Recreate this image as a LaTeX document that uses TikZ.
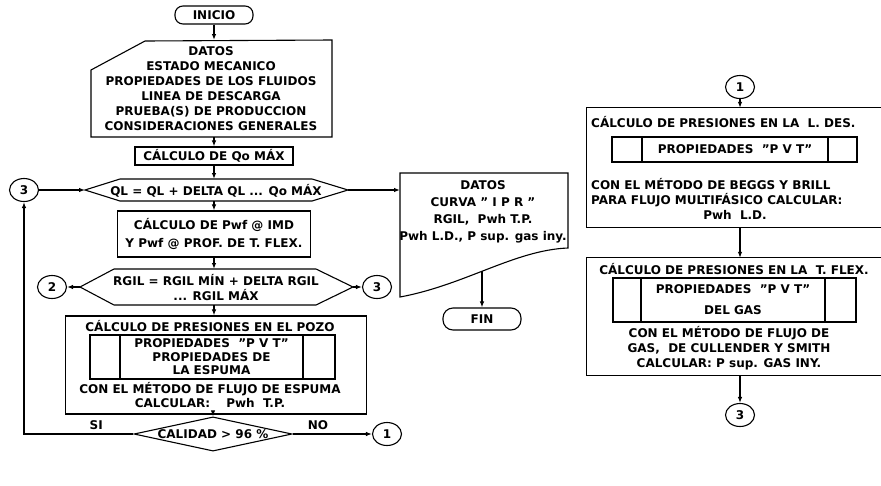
\documentclass[tikz,border=0pt]{standalone}
\usepackage{fontspec}
\setmainfont{DejaVu Sans}
\usetikzlibrary{arrows.meta,shapes.geometric}
\begin{document}
\begin{tikzpicture}[x=1pt, y=-1pt,
		every node/.style={font=\fontsize{12}{15}\selectfont\bfseries, inner sep=0pt, align=center},
		linea/.style={line width=1.1pt},
		flecha/.style={linea, -{Latex[length=6pt,width=4.5pt]}},
		caja/.style={draw, linea, rectangle},
		abierta/.style={rectangle},
		terminal/.style={draw, linea, rounded corners=8pt, minimum width=78pt, minimum height=18pt},
		conector/.style={draw, linea, ellipse, minimum width=29pt, minimum height=23pt},
		decision/.style={draw, linea, diamond, aspect=4.4, minimum width=158pt},
		rotulo/.style={font=\fontsize{12}{15}\selectfont\bfseries}]
	\useasboundingbox (0,0) rectangle (881,485);
	% columna principal
	\node[terminal] (inicio) at (214,15) {INICIO};
	\coordinate (datosN) at (214,40);
	\coordinate (datosS) at (214,137);
	\draw[linea] (91,70) -- (145,41) -- (332,40) -- (332,137) -- (91,137) -- cycle;
	\node (datos) at (211,89) {DATOS\\ESTADO MECANICO\\PROPIEDADES DE LOS FLUIDOS\\LINEA DE DESCARGA\\PRUEBA(S) DE PRODUCCION\\CONSIDERACIONES GENERALES};
	\node[caja, minimum width=158pt, minimum height=18pt] (qo) at (214,156) {CÁLCULO DE Qo MÁX};
	% ciclo QL
	\coordinate (qlO) at (85,190);
	\coordinate (qlE) at (348,190);
	\coordinate (qlN) at (214,179);
	\coordinate (qlS) at (214,201);
	\draw[linea] (qlO) -- (120,179) -- (312,179) -- (qlE) -- (312,201) -- (120,201) -- cycle;
	\node (ql) at (216,191) {QL = QL + DELTA QL ... Qo MÁX};
	\node[caja, minimum width=193pt, minimum height=46pt] (pwf) at (214,234) {CÁLCULO DE Pwf @ IMD\\[3pt]Y Pwf @ PROF. DE T. FLEX.};
	% ciclo RGIL
	\coordinate (rgO) at (80,287);
	\coordinate (rgE) at (353,287);
	\coordinate (rgN) at (214,269);
	\coordinate (rgS) at (214,305);
	\draw[linea] (rgO) -- (114,269) -- (316,269) -- (rgE) -- (316,305) -- (114,305) -- cycle;
	\node (rgil) at (216,288) {RGIL = RGIL MÍN + DELTA RGIL\\... RGIL MÁX};
	\node[conector] (c3a) at (24,190) {3};
	\node[conector] (c2) at (52,287) {2};
	\node[conector] (c3b) at (377,287) {3};
	% presiones en el pozo
	\node[caja, minimum width=301pt, minimum height=98pt] (pozo) at (216,365) {};
	\node (pozoT) at (210,326) {CÁLCULO DE PRESIONES EN EL POZO};
	\node[caja, minimum width=30pt, minimum height=44pt] (pzA) at (105,357) {};
	\node[caja, minimum width=183pt, minimum height=44pt, font=\fontsize{12}{13.5}\selectfont\bfseries] (pzB) at (211.5,357) {PROPIEDADES \ "P V T"\\PROPIEDADES DE\\LA ESPUMA};
	\node[caja, minimum width=32pt, minimum height=44pt] (pzC) at (319,357) {};
	\node[font=\fontsize{12}{14}\selectfont\bfseries] (pozoM) at (210,395) {CON EL MÉTODO DE FLUJO DE ESPUMA\\CALCULAR: \quad Pwh \ T.P.};
	\node[decision] (cal) at (213,434) {CALIDAD > 96 \%};
	\node[conector] (c1a) at (387,434) {1};
	% salida de datos
	\coordinate (docO) at (400,190);
	\coordinate (docS) at (482,271);
	\draw[linea] (400,173) -- (568,173) -- (568,248) .. controls (515,250) and (465,285) .. (400,297) -- cycle;
	\node[font=\fontsize{12}{17}\selectfont\bfseries] (doc) at (483,212) {DATOS\\CURVA " I P R "\\RGIL, \ Pwh T.P.\\Pwh L.D., P sup. gas iny.};
	\node[terminal, minimum height=22pt, rounded corners=10pt] (fin) at (482,319) {FIN};
	% columna derecha (cortada por el borde)
	\node[conector] (c1b) at (740,87) {1};
	\node[abierta, minimum width=330pt, minimum height=119pt] (ldes) at (752,167.5) {};
	\draw[linea] (ldes.north east) -- (ldes.north west) -- (ldes.south west) -- (ldes.south east);
	\node[anchor=west] (ldesT) at (591,122) {CÁLCULO DE PRESIONES EN LA \ L. DES.};
	\node[caja, minimum width=30pt, minimum height=25pt] (ldA) at (627,149.5) {};
	\node[caja, minimum width=186pt, minimum height=25pt] (ldB) at (735,149.5) {PROPIEDADES \ "P V T"};
	\node[caja, minimum width=29pt, minimum height=25pt] (ldC) at (842.5,149.5) {};
	\node[anchor=west, align=left] (ldesM) at (591,193) {CON EL MÉTODO DE BEGGS Y BRILL\\PARA FLUJO MULTIFÁSICO CALCULAR:};
	\node (ldesP) at (735,215) {Pwh \ L.D.};
	\node[abierta, minimum width=330pt, minimum height=117pt] (tflex) at (752,316.5) {};
	\draw[linea] (tflex.north east) -- (tflex.north west) -- (tflex.south west) -- (tflex.south east);
	\node (tflexT) at (734,269) {CÁLCULO DE PRESIONES EN LA \ T. FLEX.};
	\node[caja, minimum width=28pt, minimum height=44pt] (tfA) at (627,300) {};
	\node[caja, minimum width=184pt, minimum height=44pt] (tfB) at (733,300) {PROPIEDADES \ "P V T"\\[6pt]DEL GAS};
	\node[caja, minimum width=31pt, minimum height=44pt] (tfC) at (840.5,300) {};
	\node (tflexM) at (729,348) {CON EL MÉTODO DE FLUJO DE\\GAS, \ DE CULLENDER Y SMITH\\CALCULAR: P sup. GAS INY.};
	\node[conector] (c3c) at (740,415) {3};
	% conexiones
	\draw[flecha] (inicio) -- (datosN);
	\draw[flecha] (datosS) -- (qo);
	\draw[flecha] (qo) -- (qlN);
	\draw[flecha] (qlS) -- (qlS |- pwf.north);
	\draw[flecha] (rgN |- pwf.south) -- (rgN);
	\draw[flecha] (rgS) -- (rgS |- pozo.north);
	\draw[flecha] (pozo.south -| cal) -- (cal);
	\draw[flecha] (cal) -- node[rotulo, pos=0.32, above=4pt] (no) {NO} (c1a);
	\draw[flecha] (cal.west) -- node[rotulo, pos=0.34, above=4pt] (si) {SI} (c3a |- cal.west) -- (c3a);
	\draw[flecha] (c3a) -- (qlO);
	\draw[flecha] (qlE) -- (docO);
	\draw[flecha] (rgO) -- (c2);
	\draw[flecha] (rgE) -- (c3b);
	\draw[flecha] (docS) -- (fin);
	\draw[flecha] (c1b) -- (c1b |- ldes.north);
	\draw[flecha] (ldes.south -| c1b) -- (tflex.north -| c1b);
	\draw[flecha] (tflex.south -| c1b) -- (c3c);
\end{tikzpicture}
\end{document}
